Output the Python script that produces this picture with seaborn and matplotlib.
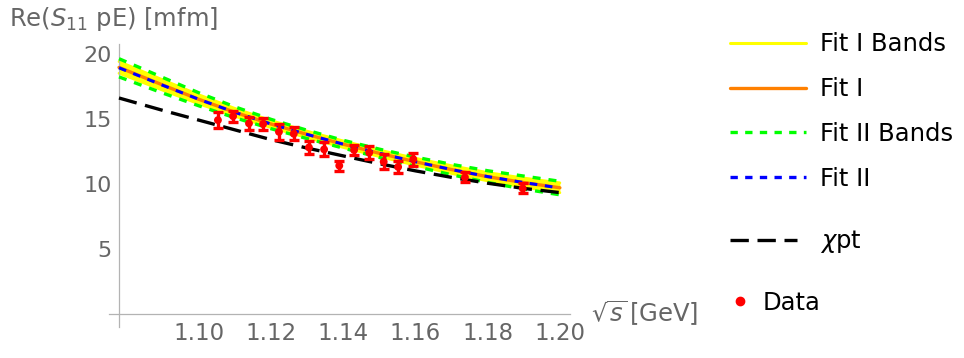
import numpy as np
import pandas as pd
import matplotlib
matplotlib.use("Agg")
import matplotlib.pyplot as plt
from matplotlib.lines import Line2D
import seaborn as sns

# ---------------- data ----------------
grid_x = [1.0779, 1.09, 1.10, 1.11, 1.12, 1.13, 1.14, 1.15, 1.16, 1.17, 1.18, 1.19, 1.20]
fit1 = [18.95, 17.60, 16.50, 15.50, 14.60, 13.80, 13.05, 12.35, 11.70, 11.10, 10.55, 10.10, 9.70]
fit1_up = [19.40, 18.00, 16.85, 15.80, 14.87, 14.05, 13.30, 12.60, 11.97, 11.40, 10.87, 10.45, 10.08]
fit1_lo = [18.50, 17.20, 16.15, 15.20, 14.33, 13.55, 12.80, 12.10, 11.43, 10.80, 10.23, 9.75, 9.32]
fit2 = [18.92, 17.58, 16.50, 15.50, 14.60, 13.80, 13.05, 12.35, 11.70, 11.10, 10.56, 10.10, 9.68]
fit2_up = [19.62, 18.18, 17.00, 15.92, 14.96, 14.12, 13.35, 12.67, 12.06, 11.50, 11.01, 10.60, 10.20]
fit2_lo = [18.22, 16.98, 16.00, 15.08, 14.24, 13.48, 12.75, 12.03, 11.34, 10.70, 10.11, 9.60, 9.16]
chpt = [16.60, 15.65, 14.90, 14.15, 13.40, 12.75, 12.15, 11.55, 11.00, 10.50, 10.05, 9.65, 9.33]

data_x = [1.1053, 1.1095, 1.1139, 1.1178, 1.1222, 1.1263, 1.1305, 1.1347,
          1.1389, 1.1430, 1.1472, 1.1512, 1.1552, 1.1594, 1.1737, 1.1897]
data_y = [14.90, 15.20, 14.65, 14.60, 14.00, 13.85, 12.80, 12.65,
          11.40, 12.60, 12.40, 11.70, 11.30, 11.90, 10.50, 9.65]
data_err = [0.60, 0.42, 0.48, 0.48, 0.60, 0.50, 0.52, 0.54,
            0.38, 0.40, 0.50, 0.58, 0.43, 0.50, 0.38, 0.38]

x_major = [1.10, 1.12, 1.14, 1.16, 1.18, 1.20]
x_labels = ["1.10", "1.12", "1.14", "1.16", "1.18", "1.20"]
y_major = [5, 10, 15, 20]
y_labels = ["5", "10", "15", "20"]

curves = pd.DataFrame({"x": grid_x, "fit1": fit1, "fit1_up": fit1_up, "fit1_lo": fit1_lo,
                       "fit2": fit2, "fit2_up": fit2_up, "fit2_lo": fit2_lo, "chpt": chpt})
pts = pd.DataFrame({"x": data_x, "y": data_y, "err": data_err})

# ---------------- style ----------------
sns.set_style("white")
plt.rcParams["font.family"] = ["DejaVu Sans"]
plt.rcParams["mathtext.fontset"] = "dejavusans"

YELLOW = "#ffff00"
ORANGE = "#ff8000"
GREEN = "#00ff00"
BLUE = "#0000ff"
RED = "#ff0000"
AXC = "#b3b3b3"
TXC = "#666666"

fig = plt.figure(figsize=(9.64, 3.58), dpi=100)
ax = fig.add_axes([109 / 964, 31 / 358, 461 / 964, 283 / 358])

# bands and curves
ax.fill_between(curves["x"], curves["fit1_lo"], curves["fit1_up"], color=YELLOW, lw=0, zorder=1)
sns.lineplot(data=curves, x="x", y="fit1_up", ax=ax, color=YELLOW, lw=2, zorder=2)
sns.lineplot(data=curves, x="x", y="fit1_lo", ax=ax, color=YELLOW, lw=2, zorder=2)
sns.lineplot(data=curves, x="x", y="fit1", ax=ax, color=ORANGE, lw=2.4, zorder=3)
sns.lineplot(data=curves, x="x", y="fit2_up", ax=ax, color=GREEN, lw=2.4,
             linestyle=(0, (2.4, 2.4)), zorder=4)
sns.lineplot(data=curves, x="x", y="fit2_lo", ax=ax, color=GREEN, lw=2.4,
             linestyle=(0, (2.4, 2.4)), zorder=4)
sns.lineplot(data=curves, x="x", y="fit2", ax=ax, color=BLUE, lw=2.2,
             linestyle=(0, (2.5, 2.5)), zorder=5)
sns.lineplot(data=curves, x="x", y="chpt", ax=ax, color="black", lw=2.4,
             linestyle=(0, (5.5, 2.6)), zorder=5)

# data
ax.errorbar(pts["x"], pts["y"], yerr=pts["err"], fmt="none", ecolor=RED,
            elinewidth=2.4, capsize=3.4, capthick=2.4, zorder=6)
sns.scatterplot(data=pts, x="x", y="y", ax=ax, color=RED, s=32, edgecolor="none", zorder=7)

# axes
ax.set_xlim(1.07513, 1.2028)
ax.set_ylim(-1.0, 20.75)
for s in ["top", "right"]:
    ax.spines[s].set_visible(False)
ax.spines["left"].set_position(("data", 1.0779))
ax.spines["bottom"].set_position(("data", 0))
for s in ["left", "bottom"]:
    ax.spines[s].set_color(AXC)
    ax.spines[s].set_linewidth(0.9)

ax.set_xticks(x_major)
ax.set_xticklabels(x_labels)
ax.set_xticks(list(np.arange(1.08, 1.2001, 0.005)), minor=True)
ax.set_yticks(y_major)
ax.set_yticklabels(y_labels)
ax.set_yticks(list(range(1, 21)), minor=True)
ax.tick_params(axis="both", which="both", direction="in", color=AXC, width=0.8,
               labelcolor=TXC)
ax.tick_params(axis="x", which="major", labelsize=16.5)
ax.tick_params(axis="y", which="major", labelsize=16)
ax.tick_params(axis="both", which="major", length=4.5)
ax.tick_params(axis="both", which="minor", length=2.8)
ax.tick_params(axis="x", which="major", pad=6)
ax.tick_params(axis="y", which="major", pad=5)
ax.set_xlabel("")
ax.set_ylabel("")

fig.text(9 / 964, 1 - 19 / 358, r"Re($S_{11}$ pE) [mfm]", color=TXC, fontsize=17.5,
         ha="left", va="center")
fig.text(591 / 964, 1 - 313 / 358, r"$\sqrt{s}\,$[GeV]", color=TXC, fontsize=17.5,
         ha="left", va="center")

# legends
FS = 17.5
h1 = [Line2D([], [], color=YELLOW, lw=2.2),
      Line2D([], [], color=ORANGE, lw=2.4),
      Line2D([], [], color=GREEN, lw=2.4, linestyle=(0, (2.2, 2.2))),
      Line2D([], [], color=BLUE, lw=2.4, linestyle=(0, (2.2, 2.2)))]
l1 = fig.legend(h1, ["Fit I Bands", "Fit I", "Fit II Bands", "Fit II"],
                loc="center left", bbox_to_anchor=(730 / 964, 1 - 111.5 / 358),
                frameon=False, fontsize=FS, handlelength=3.13, handletextpad=0.58,
                labelspacing=0.86, borderpad=0, borderaxespad=0, labelcolor="black")
h2 = [Line2D([], [], color="black", lw=2.4, linestyle=(0, (5.5, 2.6)))]
l2 = fig.legend(h2, [r"$\chi$pt"], loc="center left",
                bbox_to_anchor=(730 / 964, 1 - 241.7 / 358), frameon=False, fontsize=FS,
                handlelength=2.75, handletextpad=0.95, borderpad=0, borderaxespad=0,
                labelcolor="black")
h3 = [Line2D([], [], color=RED, marker="o", markersize=6, lw=0)]
l3 = fig.legend(h3, ["Data"], loc="center left",
                bbox_to_anchor=(730 / 964, 1 - 303 / 358), frameon=False, fontsize=FS,
                handlelength=0.8, handletextpad=0.56, borderpad=0, borderaxespad=0,
                labelcolor="black")

fig.savefig("out.png", dpi=100)
